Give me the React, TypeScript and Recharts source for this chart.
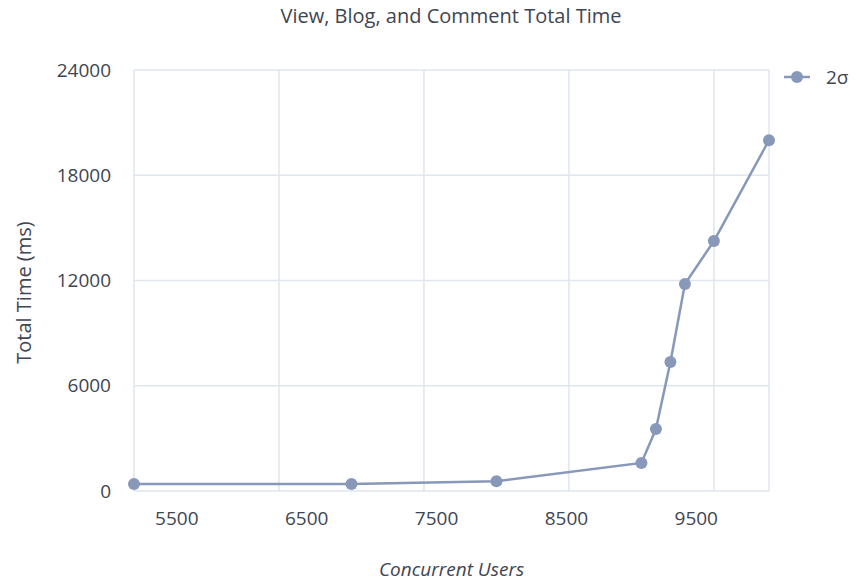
import React from 'react';
import { LineChart, Line, XAxis, YAxis, CartesianGrid, Legend } from 'recharts';

const users = [5500, 7000, 8000, 9000, 9100, 9200, 9300, 9500, 9880];
const totalTime = [400, 400, 560, 1600, 3530, 7350, 11800, 14250, 20000];
const xTicks = [5500, 6500, 7500, 8500, 9500];
const yTicks = [0, 6000, 12000, 18000, 24000];
const seriesName = '2σ';
const title = 'View, Blog, and Comment Total Time';

const data = users.map((u, i) => ({ users: u, total: totalTime[i] }));

const FONT = '"Open Sans", "Noto Sans", sans-serif';
const TEXT = '#404552';
const LINE = '#8798b9';
const GRID = '#dfe6ee';

const LegendContent = () => (
  <div style={{ display: 'flex', alignItems: 'center', fontFamily: FONT, fontSize: 19, color: TEXT }}>
    <svg width={26} height={14} style={{ marginRight: 16 }}>
      <line x1={0} y1={7} x2={26} y2={7} stroke={LINE} strokeWidth={2.5} />
      <circle cx={13} cy={7} r={6} fill={LINE} />
    </svg>
    <span>{seriesName}</span>
  </div>
);

export default function App() {
  return (
    <div style={{ position: 'absolute', left: 0, top: 0, width: 856, height: 581, background: '#fff', overflow: 'hidden' }}>
      <div
        style={{
          position: 'absolute',
          top: 2,
          left: 0,
          width: 902,
          textAlign: 'center',
          fontFamily: FONT,
          fontSize: 20,
          color: TEXT,
        }}
      >
        {title}
      </div>
      <LineChart width={856} height={581} data={data} margin={{ top: 70, right: 7, bottom: 6, left: 0 }}>
        <CartesianGrid xAxisId="data" stroke={GRID} strokeWidth={1.5} />
        <XAxis
          xAxisId="data"
          dataKey="users"
          type="number"
          domain={[5500, 9880]}
          ticks={xTicks}
          height={0}
          hide
        />
        <XAxis
          xAxisId="labels"
          dataKey="users"
          type="number"
          domain={[5170, 10060]}
          ticks={xTicks}
          interval={0}
          allowDataOverflow
          height={84}
          axisLine={false}
          tickLine={false}
          tickSize={0}
          tickMargin={21}
          tick={{ fill: TEXT, fontSize: 19, fontFamily: FONT }}
          label={{
            value: 'Concurrent Users',
            position: 'insideBottom',
            offset: -1,
            style: { fill: TEXT, fontSize: 19, fontFamily: FONT, fontStyle: 'italic' },
          }}
        />
        <YAxis
          type="number"
          domain={[0, 24000]}
          ticks={yTicks}
          width={134}
          axisLine={false}
          tickLine={false}
          tickSize={0}
          tickMargin={23}
          tick={{ fill: TEXT, fontSize: 19, fontFamily: FONT }}
          label={{
            value: 'Total Time (ms)',
            angle: -90,
            position: 'insideLeft',
            offset: 24,
            dy: 12,
            style: { fill: TEXT, fontSize: 20, fontFamily: FONT, textAnchor: 'middle' },
          }}
        />
        <Legend
          layout="vertical"
          align="right"
          verticalAlign="top"
          width={80}
          content={<LegendContent />}
          wrapperStyle={{ position: 'absolute', left: 784, top: 64, width: 80 }}
        />
        <Line
          xAxisId="data"
          type="linear"
          dataKey="total"
          name={seriesName}
          stroke={LINE}
          strokeWidth={2.5}
          dot={{ r: 6, fill: LINE, stroke: LINE, strokeWidth: 0 }}
          activeDot={false}
          isAnimationActive={false}
        />
      </LineChart>
    </div>
  );
}
